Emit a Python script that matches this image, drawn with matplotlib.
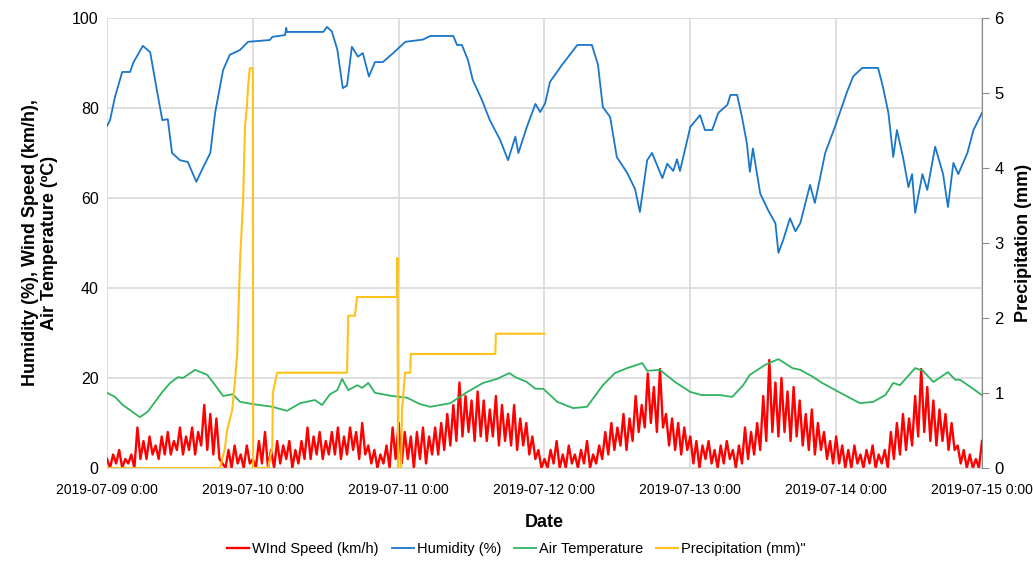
import matplotlib
matplotlib.use("Agg")
import matplotlib.pyplot as plt
import matplotlib.dates as mdates
from matplotlib.ticker import FuncFormatter
import numpy as np
import pandas as pd

plt.rcParams['font.family'] = ['Liberation Sans', 'DejaVu Sans']

start = pd.Timestamp('2019-07-09 00:00')

# wind speed (km/h), one reading every 30 min
wind_kmh = [
    2, 0, 3, 1, 4, 0, 2, 1, 3, 0, 9, 2, 6, 2, 7, 3, 5, 2, 7, 3,
    8, 3, 6, 4, 9, 3, 7, 4, 9, 3, 8, 5, 14, 4, 12, 3, 11, 2,
    1, 0, 4, 0, 5, 1, 3, 0, 5, 1,
    2, 0, 6, 1, 8, 0, 4, 0, 6, 1, 5, 2, 6, 0, 4, 1, 6, 2,
    9, 2, 7, 3, 8, 2, 6, 3, 8, 3, 9, 2, 7, 3, 9, 4, 8, 2, 10, 3,
    5, 1, 4, 0, 3, 1, 5, 0, 9, 2,
    10, 1, 8, 2, 7, 0, 8, 2, 9, 1, 7, 3, 9, 3, 10, 4, 12, 5,
    14, 6, 19, 7, 16, 8, 15, 6, 17, 7,
    15, 6, 13, 7, 16, 5, 14, 6, 12, 5, 14, 4, 11, 5, 10, 3, 7, 2, 4, 0,
    2, 0, 4, 1, 6, 0, 3, 0, 5, 1, 3, 0, 4, 1, 6, 0, 3, 1, 5, 2,
    8, 3, 10, 4, 9, 5, 12, 4, 11, 6, 16, 8, 14, 9, 21, 10, 18, 8, 22, 9,
    12, 5, 11, 4, 10, 3, 9, 4,
    7, 1, 6, 0, 5, 2, 6, 1, 4, 0, 5, 1, 6, 2, 4, 0, 5, 1,
    9, 2, 8, 3, 10, 4, 16, 6, 24, 8, 19, 7, 20, 8, 17, 6, 18, 7,
    15, 5, 12, 4, 13, 3, 10, 4, 8, 2, 6, 1,
    7, 1, 5, 0, 4, 0, 5, 1, 3, 0, 4, 1, 5, 0, 3, 1, 4, 0,
    8, 2, 10, 3, 12, 4, 11, 5, 16, 7, 22, 8, 18, 6,
    15, 5, 13, 6, 12, 4, 10, 4, 5, 1, 4, 0, 3, 0, 2, 0, 6,
]
wind_hours = np.arange(len(wind_kmh)) * 0.5

hum_hours = [
    0, 0.5, 1.3, 2.5, 3.8, 4.3, 5.9, 7.1, 8.2, 9.1, 10.0, 10.7, 12.0, 13.3,
    14.7, 15.6, 17.0, 17.8, 19.1, 20.2, 21.9, 23.2, 26.8, 27.2, 29.3, 29.5,
    29.6, 35.6, 36.2, 37.0, 37.9, 38.8, 39.5, 40.3, 41.3, 42.1, 43.1, 44.1,
    45.4, 47.1, 49.1, 52.0, 53.2, 57.0, 57.6, 58.4, 59.4, 60.2, 61.7, 63.0,
    64.7, 66.0, 67.2, 67.7, 69.1, 70.5, 71.3, 72.1, 72.9, 74.9, 77.4, 79.8,
    80.8, 81.6, 82.8, 83.9, 85.6, 86.9, 87.7, 88.9, 89.7, 91.4, 92.2, 93.2,
    93.8, 94.3, 96.0, 97.6, 98.4, 99.6, 100.6, 102.1, 102.6, 103.7, 104.5,
    105.3, 105.8, 106.3, 107.5, 108.8, 110.0, 110.5, 111.3, 112.4, 113.3,
    114.1, 115.7, 116.5, 118.2, 119.8, 121.8, 122.8, 124.3, 126.9, 127.7,
    128.6, 129.4, 130.0, 131.0, 131.9, 132.5, 133.0, 134.2, 135.0, 136.3,
    137.6, 138.4, 139.3, 140.1, 141.6, 142.6, 144.0,
]
humidity = [
    76, 77.3, 82.4, 88, 88, 90, 93.8, 92.4, 84, 77.3, 77.5, 70, 68.4, 68,
    63.6, 66.2, 70, 79, 88.4, 91.8, 92.9, 94.7, 95.1, 95.8, 96.2, 97.8,
    96.9, 96.9, 98, 97, 93, 84.4, 85, 93.6, 91.4, 92.2, 87, 90.2,
    90.2, 92.2, 94.7, 95.2, 96, 96, 94, 94, 90.7, 86.2, 81.8, 77.3,
    72.9, 68.4, 73.6, 70, 75.8, 80.9, 79.1, 81, 85.8, 89.6, 94, 94,
    89.6, 80.2, 78, 69.1, 65.6, 62, 56.9, 68.4, 70, 64.4, 67.6, 66,
    68.6, 66, 75.8, 78.4, 75.1, 75.1, 78.9, 80.7, 82.9, 82.9, 78,
    72.2, 65.8, 71, 61, 57.3, 54.4, 47.8, 50.7, 55.5, 52.6,
    54.4, 62.9, 58.9, 70, 75.8, 83.6, 87, 88.9, 88.9, 84.7,
    78.9, 69.1, 75.1, 69.1, 62.4, 65.3, 56.7, 65.3, 61.8, 71.4,
    65.3, 58, 67.8, 65.3, 70, 75.1, 78.9,
]

temp_hours = [
    0, 1.3, 2.6, 5.4, 6.7, 9.1, 10.4, 11.7, 12.5, 14.5, 16.5, 17.8, 19.1,
    20.7, 21.9, 24.0, 27.2, 29.6, 31.8, 34.2, 35.4, 36.7, 37.9, 38.7, 39.7,
    41.2, 42.0, 43.0, 44.1, 46.9, 49.4, 51.5, 53.2, 56.5, 59.3, 61.9, 64.2,
    66.2, 67.2, 69.1, 70.5, 71.8, 74.1, 76.7, 79.0, 81.6, 83.6, 85.6, 88.1,
    88.9, 91.0, 93.5, 96.0, 97.9, 100.9, 102.9, 104.7, 105.8, 108.3, 110.5,
    112.8, 114.1, 116.0, 117.7, 120.7, 123.9, 126.1, 128.1, 129.4, 130.5,
    133.0, 134.3, 136.0, 138.4, 139.6, 140.4, 144.0,
]
air_temp = [
    16.7, 15.8, 14, 11.3, 12.5, 16.9, 18.9, 20.2, 20, 21.8, 20.7, 18.4, 16,
    16.4, 14.7, 14.2, 13.6, 12.7, 14.4, 15.1, 14, 16.4, 17.3, 19.8, 17.3,
    18.4, 17.8, 18.9, 16.7, 16, 15.6, 14.2, 13.6, 14.4, 16.9, 18.9, 19.8,
    21.1, 20.2, 19.1, 17.6, 17.6, 14.7, 13.3, 13.6, 18.4, 21.1, 22.2, 23.3,
    21.6, 21.8, 19.1, 16.9, 16.2, 16.2, 15.8, 18.4, 20.7, 22.9, 24.2,
    22.2, 21.8, 20.4, 18.9, 16.7, 14.4, 14.7, 16.2, 18.9, 18.4,
    22.2, 21.6, 19.1, 21.3, 19.6, 19.6, 16.2,
]

precip_hours = [
    0, 18.6, 19.4, 19.75, 20.6, 21.1, 21.4, 21.9, 22.4, 22.7, 23.0, 23.2,
    23.5, 24.0, 24.05, 26.5, 27.2, 27.3, 28.0, 39.5, 39.7, 40.8, 41.15,
    47.7, 47.8, 47.9, 48.4, 48.55, 49.05, 49.9, 50.0, 63.9, 64.0, 72.0,
]
precip_mm = [
    0, 0, 0.26, 0.5, 0.77, 1.2, 1.5, 2.77, 3.57, 4.55, 4.8, 5.07,
    5.33, 5.33, 0, 0, 0.28, 1.0, 1.27, 1.27, 2.03, 2.03, 2.28,
    2.28, 2.8, 0, 0, 0.77, 1.27, 1.27, 1.52, 1.52, 1.79, 1.79,
]


def to_time(h):
    return start + pd.to_timedelta(np.asarray(h, dtype=float), unit='h')


fig = plt.figure(figsize=(10.33, 5.65), dpi=100)
ax = fig.add_axes([0.1036, 0.1717, 0.8470, 0.7965])
ax2 = ax.twinx()

grid_c = '#D9D9D9'
l1, = ax.plot(to_time(wind_hours), wind_kmh, color='#FF0000', lw=1.7, label='WInd Speed (km/h)')
l2, = ax.plot(to_time(hum_hours), humidity, color='#1A76C9', lw=1.3, label='Humidity (%)')
l3, = ax.plot(to_time(temp_hours), air_temp, color='#2FB35E', lw=1.3, label='Air Temperature')
l4, = ax2.plot(to_time(precip_hours), precip_mm, color='#FFC21A', lw=1.5, label='Precipitation (mm)"')

t0 = start
t1 = start + pd.Timedelta(days=6)
ax.set_xlim(t0, t1)
ax.set_ylim(0, 100)
ax2.set_ylim(0, 6)
ax.set_yticks(range(0, 101, 20))
ax2.set_yticks(range(0, 7))

ax.xaxis.set_major_locator(mdates.DayLocator())
ax.xaxis.set_major_formatter(FuncFormatter(
    lambda v, p: (lambda d: f"{d:%Y-%m-%d} {d.hour}:{d:%M}")(mdates.num2date(v))))

ax.grid(True, color=grid_c, lw=1.2)
ax.set_axisbelow(True)
for s in ['top', 'right', 'left']:
    ax.spines[s].set_visible(False)
ax.spines['bottom'].set_color(grid_c)
for s in ['top', 'left', 'bottom']:
    ax2.spines[s].set_visible(False)
ax2.spines['right'].set_color('#8C8C8C')

ax.tick_params(axis='y', length=0, labelsize=11.5, colors='black', pad=6)
ax2.tick_params(axis='y', length=5, color='#8C8C8C', labelsize=12, pad=4)
ax.tick_params(axis='x', length=0, labelsize=10, pad=11)

ax.set_xlabel('Date', fontsize=13, fontweight='bold', labelpad=12)
ax.set_ylabel('Humidity (%), Wind Speed (km/h),\nAir Temperature (ºC)', fontsize=13,
              fontweight='bold', labelpad=10)
ax2.set_ylabel('Precipitation (mm)', fontsize=13, fontweight='bold', labelpad=8)

fig.legend(handles=[l1, l2, l3, l4], loc='lower center', bbox_to_anchor=(0.5, -0.008),
           ncol=4, frameon=False, fontsize=10.5, handlelength=1.5, handletextpad=0.2,
           columnspacing=0.9)

fig.savefig('out.png', dpi=100)
